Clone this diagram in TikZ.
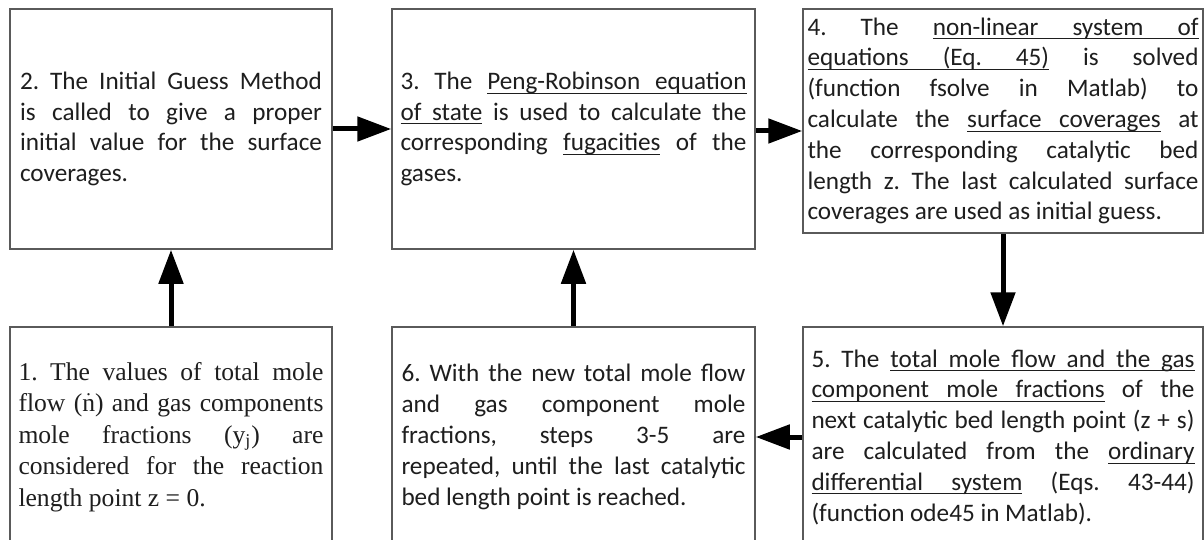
\documentclass[tikz,border=0pt]{standalone}
\usepackage{fontspec}
\setmainfont{Carlito}
\newfontfamily\timesf{Liberation Serif}
\usetikzlibrary{arrows.meta}
\definecolor{boxgray}{HTML}{5A5A5A}
\definecolor{textblack}{HTML}{1E1E1E}
\setlength\parindent{0pt}
\tolerance=10000
\hbadness=10000
\hyphenpenalty=10000
\exhyphenpenalty=10000
\frenchspacing
\newcommand\ulsp{\leaders\hrule height -1.6pt depth 2.1pt\hskip\fontdimen2\font plus\fontdimen3\font minus\fontdimen4\font\relax}
\newcommand\ulw[1]{\setbox0\hbox{#1}\rlap{\rule[-2.1pt]{\wd0}{0.5pt}}\box0\relax}
\begin{document}
\begin{tikzpicture}[x=0.5pt,y=-0.5pt,
  box/.style={draw=boxgray, line width=0.75pt, fill=white, align=justify,
    inner sep=0pt, text=textblack, font=\fontsize{12.6}{15.4}\selectfont\frenchspacing},
  serifbox/.style={box, font=\timesf\fontsize{12.8}{15.8}\selectfont\frenchspacing},
  arr/.style={-{Triangle[length=17pt,width=12pt]}, line width=2.5pt, black}]
\useasboundingbox (0,0) rectangle (1204,540);
\clip (0,0) rectangle (1204,540);

\node[box, minimum width=161pt, minimum height=120pt, text width=151pt] (b2) at (171,129)
 {2. The Initial Guess Method\linebreak is called to give a proper\linebreak initial value for the surface\linebreak coverages.};

\node[box, minimum width=181.5pt, minimum height=120pt, text width=173pt] (b3) at (573.5,129)
 {3. The \ulw{Peng-Robinson}\ulsp\ulw{equation}\linebreak \ulw{of}\ulsp\ulw{state} is used to calculate the\linebreak corresponding \ulw{fugacities} of the\linebreak gases.};

\node[box, minimum width=200pt, minimum height=112pt, text width=195.5pt] (b4) at (1003,121)
 {4. The \ulw{non-linear}\ulsp\ulw{system}\ulsp\ulw{of}\linebreak \ulw{equations}\ulsp\ulw{(Eq.}\ulsp\ulw{45)} is solved\linebreak (function fsolve in Matlab) to\linebreak calculate the \ulw{surface}\ulsp\ulw{coverages} at\linebreak the corresponding catalytic bed\linebreak length z. The last calculated surface\linebreak coverages are used as initial guess.};

\node[serifbox, minimum width=161pt, minimum height=110pt, text width=152.5pt] (b1) at (171,437)
 {1. The values of total mole\linebreak flow (\ensuremath{\dot{\mbox{n}}}) and gas components\linebreak mole fractions (y\textsubscript{j}) are\linebreak considered for the reaction\linebreak length point z = 0.};

\node[box, minimum width=181.5pt, minimum height=110pt, text width=172pt] (b6) at (573.5,437)
 {6. With the new total mole flow\linebreak and gas component mole\linebreak fractions, steps 3-5 are\linebreak repeated, until the last catalytic\linebreak bed length point is reached.};

\node[box, minimum width=200pt, minimum height=110pt, text width=191.5pt] (b5) at (1003,437)
 {5. The \ulw{total}\ulsp\ulw{mole}\ulsp\ulw{flow}\ulsp\ulw{and}\ulsp\ulw{the}\ulsp\ulw{gas}\linebreak \ulw{component}\ulsp\ulw{mole}\ulsp\ulw{fractions} of the\linebreak next catalytic bed length point (z + s)\linebreak are calculated from the \ulw{ordinary}\linebreak \ulw{differential}\ulsp\ulw{system} (Eqs. 43-44)\linebreak (function ode45 in Matlab).};

\draw[arr] (b1.north) -- (b2.south);
\draw[arr] (b6.north) -- (b3.south);
\draw[arr] (b2.east) -- (b3.west);
\draw[arr] ([yshift=-1pt]b3.east) -- ([yshift=-1pt]b3.east -| b4.west);
\draw[arr] (b4.south) -- (b5.north);
\draw[arr] (b5.west) -- (b5.west -| b6.east);
\end{tikzpicture}
\end{document}
